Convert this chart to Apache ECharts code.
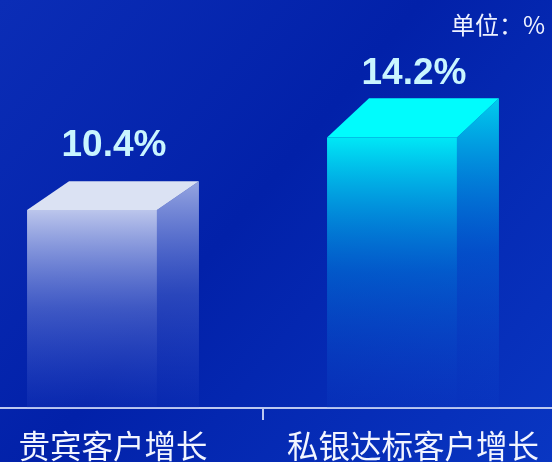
<!DOCTYPE html>
<html>
<head>
<meta charset="utf-8">
<script src="https://cdn.jsdelivr.net/npm/echarts@6/dist/echarts.min.js"></script>
<style>
html,body{margin:0;padding:0;background:#0424ae;}
#chart{width:552px;height:462px;}
</style>
</head>
<body>
<div id="chart"></div>
<script>
// ---- data ----
var categories = ['贵宾客户增长', '私银达标客户增长'];
var values = [10.4, 14.2];
var unitText = '单位：%';
var labelSuffix = '%';

// ---- styles (per bar) ----
var barStyles = [
  { top: '#dbe2f3', front: ['rgba(188,198,236,1)', 'rgba(120,140,220,0.5)', 'rgba(70,100,215,0.1)'],
    side: ['rgba(150,165,225,1)', 'rgba(90,115,210,0.45)', 'rgba(60,90,210,0.08)'] },
  { top: '#00fcfd', front: ['rgba(0,232,246,1)', 'rgba(0,135,226,0.5)', 'rgba(20,80,210,0.1)'],
    side: ['rgba(0,205,238,1)', 'rgba(0,120,225,0.45)', 'rgba(20,80,210,0.08)'] }
];

function vgrad(stops) {
  return new echarts.graphic.LinearGradient(0, 0, 0, 1, [
    { offset: 0, color: stops[0] },
    { offset: 0.5, color: stops[1] },
    { offset: 1, color: stops[2] }
  ]);
}

var chart = echarts.init(document.getElementById('chart'), null, { renderer: 'canvas' });

var option = {
  backgroundColor: new echarts.graphic.LinearGradient(0, 0, 1, 1, [
    { offset: 0, color: '#0b2db6' },
    { offset: 0.45, color: '#0221a9' },
    { offset: 1, color: '#0936c2' }
  ]),
  title: {
    text: unitText,
    right: 2,
    top: 8,
    textStyle: { color: '#eef2ff', fontSize: 24, fontWeight: 'normal', fontFamily: 'Noto Sans CJK SC' }
  },
  grid: { left: -37, right: -11, top: 27, bottom: 54, containLabel: false, outerBoundsMode: 'none' },
  xAxis: {
    type: 'category',
    data: categories,
    axisLine: { show: true, lineStyle: { color: '#bcc8f0', width: 2 } },
    axisTick: { show: true, length: 12, lineStyle: { color: '#bcc8f0', width: 2 } },
    axisLabel: { color: '#f2f5ff', fontSize: 31.5, margin: 22, interval: 0, hideOverlap: false, fontFamily: 'Noto Sans CJK SC' }
  },
  yAxis: {
    type: 'value',
    min: 0,
    max: 20,
    show: false,
    splitLine: { show: false }
  },
  series: [{
    type: 'custom',
    data: values.map(function (v, i) { return [i, v]; }),
    encode: { x: 0, y: 1 },
    renderItem: function (params, api) {
      var i = api.value(0);
      var v = api.value(1);
      var topP = api.coord([i, v]);
      var baseP = api.coord([i, 0]);
      var cw = api.size([1, 0])[0];
      var cx = topP[0];
      var frontW = cw * 0.433;
      var depth = cw * 0.14;
      var left = cx - frontW / 2 - depth / 2;
      var right = left + frontW;
      var h = baseP[1] - topP[1];
      var dy = h * 0.145;
      var st = barStyles[i];
      var y0 = topP[1];
      var yb = baseP[1];
      return {
        type: 'group',
        children: [
          { type: 'rect', shape: { x: left, y: y0, width: frontW, height: yb - y0 },
            style: { fill: vgrad(st.front) } },
          { type: 'polygon', shape: { points: [[right, y0], [right + depth, y0 - dy], [right + depth, yb], [right, yb]] },
            style: { fill: vgrad(st.side) } },
          { type: 'polygon', shape: { points: [[left, y0], [left + depth, y0 - dy], [right + depth, y0 - dy], [right, y0]] },
            style: { fill: st.top } },
          { type: 'text', x: cx + 1, y: y0 - 64,
            style: {
              text: v.toFixed(1) + labelSuffix,
              fontSize: 37, fontWeight: 'bold', fontFamily: 'Liberation Sans, Arial, sans-serif',
              align: 'center', verticalAlign: 'middle',
              fill: '#c9f5ff'
            } }
        ]
      };
    }
  }]
};
chart.setOption(option);
</script>
</body>
</html>
